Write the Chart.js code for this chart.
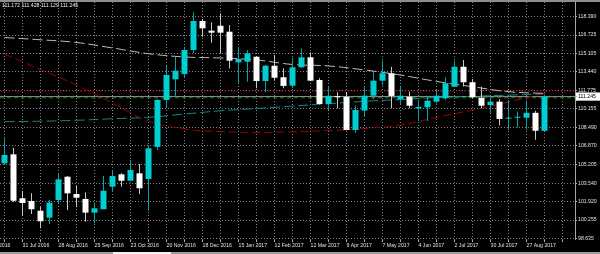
<!DOCTYPE html>
<html>
<head>
<meta charset="utf-8">
<script src="https://cdn.jsdelivr.net/npm/chart.js@4.4.0/dist/chart.umd.min.js"></script>
<style>
  html, body { margin: 0; padding: 0; background: #000; }
  canvas { background: #000; display: block; }
</style>
</head>
<body>
<canvas id="chart" width="600" height="254"></canvas>
<script>
// weekly USDJPY candles, one per week starting 17 Jul 2016
const open = [105.30,106.10,102.19,101.95,101.08,100.46,102.04,104.11,102.57,102.13,
  100.91,101.21,103.22,104.32,103.75,104.41,103.91,106.76,110.94,112.78,
  113.25,115.39,117.97,117.11,117.55,117.02,114.29,114.35,114.79,112.63,
  113.99,112.96,112.21,113.85,114.74,112.72,110.58,111.28,111.23,108.27,
  109.99,111.32,112.66,113.32,111.00,111.23,110.20,110.29,110.79,111.09,
  112.12,113.90,112.52,111.14,110.49,110.79,109.28,109.36,109.36,109.80,108.20];
const high = [107.53,106.69,102.86,102.63,101.44,102.04,104.41,104.17,103.31,102.72,
  101.80,104.17,104.71,104.41,105.60,105.24,106.93,111.00,114.06,114.79,
  115.68,118.75,118.15,117.86,118.66,117.62,115.68,115.39,114.85,114.05,
  114.95,113.76,114.68,115.54,115.17,112.87,112.19,111.62,111.62,110.43,
  112.07,113.40,114.44,113.90,112.20,111.68,110.94,111.32,111.83,112.96,
  114.44,114.50,112.80,112.12,111.23,111.00,110.94,109.90,110.90,109.98,111.43];
const low = [105.24,101.86,100.61,100.79,99.52,99.90,101.68,101.15,101.39,100.10,
  99.96,101.21,102.78,103.22,103.75,102.57,101.08,106.49,110.20,111.23,
  112.87,115.12,116.57,116.04,115.10,113.76,112.48,112.57,111.98,111.63,
  112.72,111.98,112.01,113.79,112.63,110.54,110.05,110.20,108.25,108.00,
  109.45,111.00,112.28,110.20,110.58,110.20,109.07,109.07,110.65,110.94,
  112.12,112.15,111.09,110.20,109.80,108.70,108.27,108.50,108.30,107.39,108.20];
const close = [106.04,101.97,101.77,101.21,100.14,101.80,103.88,102.63,102.24,100.91,
  101.30,102.86,104.17,103.75,104.71,103.08,106.64,110.94,113.17,113.55,
  115.39,117.97,117.32,116.93,116.93,114.44,114.59,115.09,112.63,113.99,
  112.92,112.19,113.85,114.74,112.66,110.58,111.32,111.19,108.27,110.05,
  111.32,112.66,113.32,111.30,111.32,110.43,110.32,110.88,111.32,112.43,
  113.90,112.52,111.18,110.43,110.79,109.25,109.33,109.42,109.80,108.20,111.245];

// moving averages, read every 4th week
const maWeeks = [0,4,8,12,16,20,24,28,32,36,40,44,48,52,56,60];
const maGray = [116.50,116.30,116.06,115.57,115.06,114.77,114.68,114.50,114.10,113.97,113.61,113.16,112.59,112.12,111.68,111.52];
const maRed  = [115.03,113.65,112.27,110.67,109.07,108.36,108.13,108.05,108.11,108.22,108.40,108.71,109.38,110.05,110.76,111.56];
const maTeal = [109.01,109.05,109.13,109.27,109.40,109.69,109.98,110.18,110.40,110.61,110.82,110.98,111.16,111.27,111.37,111.49];

// horizontal levels
const redLevel = 111.74;
const greenLevel = 111.14;
const lastPrice = 111.245;

const priceTicks = [98.635,100.255,101.920,103.540,105.205,106.870,108.490,110.155,111.245,111.775,113.440,115.105,116.725,118.390];
const dateLabels = ['3 Jul 2016','31 Jul 2016','28 Aug 2016','25 Sep 2016','23 Oct 2016','20 Nov 2016','18 Dec 2016','15 Jan 2017',
  '12 Feb 2017','12 Mar 2017','9 Apr 2017','7 May 2017','4 Jun 2017','2 Jul 2017','30 Jul 2017','27 Aug 2017'];
const ohlcText = '111.172 111.428 111.129 111.245';

const xMin = -0.5, xMax = 63.389;
const weeks = open.map((_, i) => i);
const gridWeeks = [];
for (let k = -2; k <= 62; k += 2) gridWeeks.push(k);

const isUp = i => close[i] >= open[i];
const font = { family: '"Liberation Sans", Arial, sans-serif', size: 5.2 };
const gridColor = '#858585';

const hline = (v) => [{ x: xMin, y: v }, { x: xMax, y: v }];
const maLine = (vals) => maWeeks.map((k, j) => ({ x: k, y: vals[j] }));
const lineStyle = { type: 'line', borderWidth: 1, pointRadius: 0, fill: false, backgroundColor: 'rgba(0,0,0,0)' };

// dotted MT4-style grid, placed with the chart's own scales
const mtGrid = {
  id: 'mtGrid',
  beforeDatasetsDraw(chart) {
    const { ctx, chartArea: a, scales: { x, y } } = chart;
    const snap = p => Math.round(p - 0.5) + 0.5;
    ctx.save();
    ctx.lineWidth = 1;
    ctx.strokeStyle = gridColor;
    ctx.setLineDash([1, 2]);
    ctx.beginPath();
    gridWeeks.forEach(k => {
      const px = snap(x.getPixelForValue(k));
      if (px < a.left || px > a.right) return;
      ctx.moveTo(px, a.top);
      ctx.lineTo(px, a.bottom);
    });
    priceTicks.forEach(v => {
      if (v === lastPrice) return;
      const py = snap(y.getPixelForValue(v));
      ctx.moveTo(a.left, py);
      ctx.lineTo(a.right, py);
    });
    ctx.stroke();
    ctx.setLineDash([]);
    ctx.strokeStyle = '#b0b0b0';
    ctx.beginPath();
    gridWeeks.forEach(k => {
      const px = snap(x.getPixelForValue(k));
      if (px < a.left || px > a.right) return;
      ctx.moveTo(px, a.bottom);
      ctx.lineTo(px, a.bottom + 2);
    });
    priceTicks.forEach(v => {
      const py = snap(y.getPixelForValue(v));
      ctx.moveTo(a.right, py);
      ctx.lineTo(a.right + 2, py);
    });
    ctx.stroke();
    ctx.strokeStyle = '#a8a8a8';
    ctx.beginPath();
    ctx.moveTo(a.right + 0.5, 0);
    ctx.lineTo(a.right + 0.5, a.bottom);
    ctx.stroke();
    ctx.restore();
  }
};

const chrome = {
  id: 'chrome',
  afterDraw(chart) {
    const c = chart.ctx;
    c.save();
    c.fillStyle = '#8e8e8e';
    c.fillRect(0, 0, chart.width, 2);
    c.fillStyle = '#9c9c9c';
    c.fillRect(0, 252, chart.width, 2);
    c.fillStyle = '#f2f2f2';
    c.fillRect(113, 252, 58, 2);
    c.fillStyle = '#f0f0f0';
    c.font = '5.2px "Liberation Sans", Arial, sans-serif';
    c.textBaseline = 'middle';
    c.fillText(ohlcText, 2, 5.5);
    c.restore();
  }
};

new Chart(document.getElementById('chart'), {
  type: 'bar',
  data: {
    datasets: [
      {
        label: 'body',
        data: weeks.map(i => ({ x: i, y: [open[i], close[i]] })),
        backgroundColor: weeks.map(i => isUp(i) ? '#00ced1' : '#ffffff'),
        barThickness: 6, minBarLength: 1, grouped: false, inflateAmount: 0, order: 0
      },
      {
        label: 'wick',
        data: weeks.map(i => ({ x: i, y: [low[i], high[i]] })),
        backgroundColor: weeks.map(i => isUp(i) ? '#00a6a8' : '#c8c8c8'),
        barThickness: 1, grouped: false, inflateAmount: 0, order: 1
      },
      { ...lineStyle, data: maLine(maGray), borderColor: '#bdbdbd', borderDash: [10, 4], tension: 0.4, order: 2 },
      { ...lineStyle, data: maLine(maRed), borderColor: '#a00000', borderDash: [8, 4], tension: 0.4, order: 3 },
      { ...lineStyle, data: maLine(maTeal), borderColor: '#0a8c8c', borderDash: [10, 4], tension: 0.4, order: 4 },
      { ...lineStyle, data: hline(redLevel), borderColor: '#960000', borderDash: [2, 2], order: 5 },
      { ...lineStyle, data: hline(greenLevel), borderColor: '#1f7a1f', borderDash: [4, 3], order: 6 },
      { ...lineStyle, data: hline(lastPrice), borderColor: '#8c8c8c', order: 7 }
    ]
  },
  options: {
    responsive: false,
    animation: false,
    events: [],
    layout: { padding: { top: 2, left: 0, right: 0, bottom: 0 } },
    plugins: { legend: { display: false }, tooltip: { enabled: false } },
    scales: {
      x: {
        type: 'linear', position: 'bottom', min: xMin, max: xMax, bounds: 'data', offset: false,
        afterBuildTicks: s => { s.ticks = gridWeeks.map(v => ({ value: v })); },
        afterFit: s => { s.height = 14; s.paddingLeft = 0; s.paddingRight = 0; },
        grid: { display: false, drawTicks: true, tickLength: 2, offset: false },
        border: { display: false },
        ticks: {
          autoSkip: false, maxRotation: 0, minRotation: 0, align: 'start', padding: 0,
          color: '#e0e0e0', font,
          callback: v => ((v + 2) % 4 === 0 ? (dateLabels[(v + 2) / 4] || '') : '')
        }
      },
      y: {
        type: 'linear', position: 'right', min: 98.475, max: 119.663, bounds: 'data',
        afterBuildTicks: s => { s.ticks = priceTicks.map(v => ({ value: v })); },
        afterFit: s => { s.width = 25; s.paddingTop = 0; s.paddingBottom = 0; },
        grid: { display: false, drawTicks: true, tickLength: 2 },
        border: { display: false },
        ticks: {
          autoSkip: false, padding: 1, font,
          color: c => (c.tick && c.tick.value === lastPrice) ? '#000000' : '#e0e0e0',
          callback: v => v.toFixed(3),
          showLabelBackdrop: c => !!(c.tick && c.tick.value === lastPrice),
          backdropColor: '#ffffff',
          backdropPadding: { top: 1, bottom: 1, left: 3, right: 4 }
        }
      }
    }
  },
  plugins: [mtGrid, chrome]
});
</script>
</body>
</html>
